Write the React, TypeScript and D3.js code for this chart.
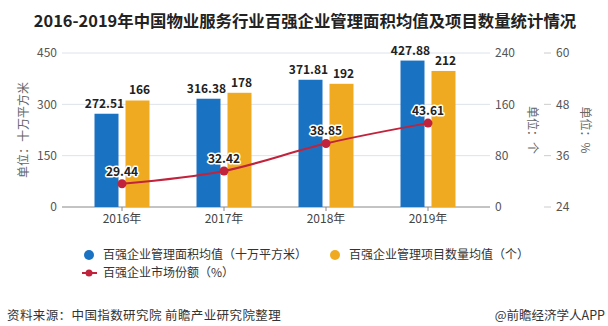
import React from "react";
import * as d3 from "d3";

const categories = ["2016年", "2017年", "2018年", "2019年"];
const areaValues = [272.51, 316.38, 371.81, 427.88];
const projectValues = [166, 178, 192, 212];
const shareValues = [29.44, 32.42, 38.85, 43.61];
const leftTicks = [0, 150, 300, 450];
const midTicks = [0, 80, 160, 240];
const rightTicks = [24, 36, 48, 60];

const BLUE = "#1a72c3";
const ORANGE = "#f0aa22";
const RED = "#c0233b";
const FONT = "'Noto Sans CJK SC', 'Noto Sans', sans-serif";

export default function App() {
  const W = 608, H = 326;
  const top = 53, bottom = 207;
  const gridL = 62, gridR = 490;
  const x = d3.scaleBand<string>().domain(categories).range([71, 479]);
  const yL = d3.scaleLinear().domain([0, 450]).range([bottom, top]);
  const yM = d3.scaleLinear().domain([0, 240]).range([bottom, top]);
  const yR = d3.scaleLinear().domain([24, 60]).range([bottom, top]);
  const barW = 24, gap = 7;
  const cx = (c: string) => (x(c) as number) + x.bandwidth() / 2;
  const line = d3
    .line<number>()
    .x((_, i) => cx(categories[i]))
    .y((d) => yR(d))
    .curve(d3.curveMonotoneX);

  return (
    <svg width={W} height={H} style={{ position: "absolute", left: 0, top: 0, fontFamily: FONT }}>
      <rect width={W} height={H} fill="#fff" />
      <text x={305} y={27} textAnchor="middle" fontSize={16.4} fontWeight="bold" fill="#222">
        2016-2019年中国物业服务行业百强企业管理面积均值及项目数量统计情况
      </text>
      {leftTicks.map((t) => (
        <g key={"l" + t}>
          {t !== 0 && (
            <line x1={gridL} x2={gridR} y1={yL(t)} y2={yL(t)} stroke="#dde3ea" strokeWidth={1} />
          )}
          <text x={57} y={yL(t)} dy="0.35em" textAnchor="end" fontSize={12} fill="#555">
            {t}
          </text>
        </g>
      ))}
      {midTicks.map((t) => (
        <text key={"m" + t} x={495} y={yM(t)} dy="0.35em" textAnchor="start" fontSize={12} fill="#555">
          {t}
        </text>
      ))}
      {rightTicks.map((t) => (
        <g key={"r" + t}>
          <line x1={544} x2={551} y1={yR(t)} y2={yR(t)} stroke="#ccc" />
          <text x={556} y={yR(t)} dy="0.35em" textAnchor="start" fontSize={12} fill="#555">
            {t}
          </text>
        </g>
      ))}
      <line x1={gridL} x2={gridR} y1={bottom} y2={bottom} stroke="#888" strokeWidth={1} />
      {categories.map((c) => (
        <g key={"x" + c}>
          <line x1={cx(c)} x2={cx(c)} y1={bottom} y2={bottom + 4} stroke="#888" />
          <text x={cx(c)} y={bottom + 16} textAnchor="middle" fontSize={12} fill="#444">
            {c}
          </text>
        </g>
      ))}
      <text transform={`translate(24,130) rotate(-90)`} textAnchor="middle" dy="0.35em" fontSize={12} fill="#666">
        单位：十万平方米
      </text>
      <text transform={`translate(532,130) rotate(90)`} textAnchor="middle" dy="0.35em" fontSize={12} fill="#666">
        单位：个
      </text>
      <text transform={`translate(585,130) rotate(90)`} textAnchor="middle" dy="0.35em" fontSize={12} fill="#666">
        单位：%
      </text>
      {categories.map((c, i) => {
        const c0 = cx(c);
        return (
          <g key={"b" + c}>
            <rect x={c0 - gap / 2 - barW} y={yL(areaValues[i])} width={barW} height={bottom - yL(areaValues[i])} fill={BLUE} />
            <rect x={c0 + gap / 2} y={yM(projectValues[i])} width={barW} height={bottom - yM(projectValues[i])} fill={ORANGE} />
          </g>
        );
      })}
      {categories.map((c, i) => {
        const c0 = cx(c);
        return (
          <g key={"bl" + c} fontSize={12} fontWeight="bold" fill="#222" textAnchor="middle">
            <text x={c0 - gap / 2 - barW / 2 - 2} y={yL(areaValues[i]) - 6}>
              {areaValues[i].toFixed(2)}
            </text>
            <text x={c0 + gap / 2 + barW / 2 + 2} y={yM(projectValues[i]) - 6}>
              {projectValues[i]}
            </text>
          </g>
        );
      })}
      <path d={line(shareValues) || ""} fill="none" stroke={RED} strokeWidth={2} />
      {shareValues.map((v, i) => (
        <circle key={"p" + i} cx={cx(categories[i])} cy={yR(v)} r={4.5} fill={RED} />
      ))}
      {shareValues.map((v, i) => (
        <text
          key={"pl" + i}
          x={cx(categories[i])}
          y={yR(v) - 8}
          textAnchor="middle"
          fontSize={12}
          fontWeight="bold"
          fill="#222"
          stroke="#fff"
          strokeWidth={3}
          paintOrder="stroke"
          strokeLinejoin="round"
        >
          {v.toFixed(2)}
        </text>
      ))}
      <g fontSize={12} fill="#333">
        <circle cx={89} cy={255} r={5} fill={BLUE} />
        <text x={103} y={255} dy="0.35em">百强企业管理面积均值（十万平方米）</text>
        <circle cx={335} cy={255} r={5} fill={ORANGE} />
        <text x={349} y={255} dy="0.35em">百强企业管理项目数量均值（个）</text>
        <line x1={82} x2={97} y1={273} y2={273} stroke={RED} strokeWidth={2} />
        <circle cx={89} cy={273} r={3.5} fill={RED} />
        <text x={103} y={273} dy="0.35em">百强企业市场份额（%）</text>
      </g>
      <text x={7} y={316} dy="0.35em" fontSize={12.5} letterSpacing={0.4} fill="#333">
        资料来源：中国指数研究院 前瞻产业研究院整理
      </text>
      <text x={605} y={316} dy="0.35em" textAnchor="end" fontSize={12.5} fill="#333">
        @前瞻经济学人APP
      </text>
    </svg>
  );
}
